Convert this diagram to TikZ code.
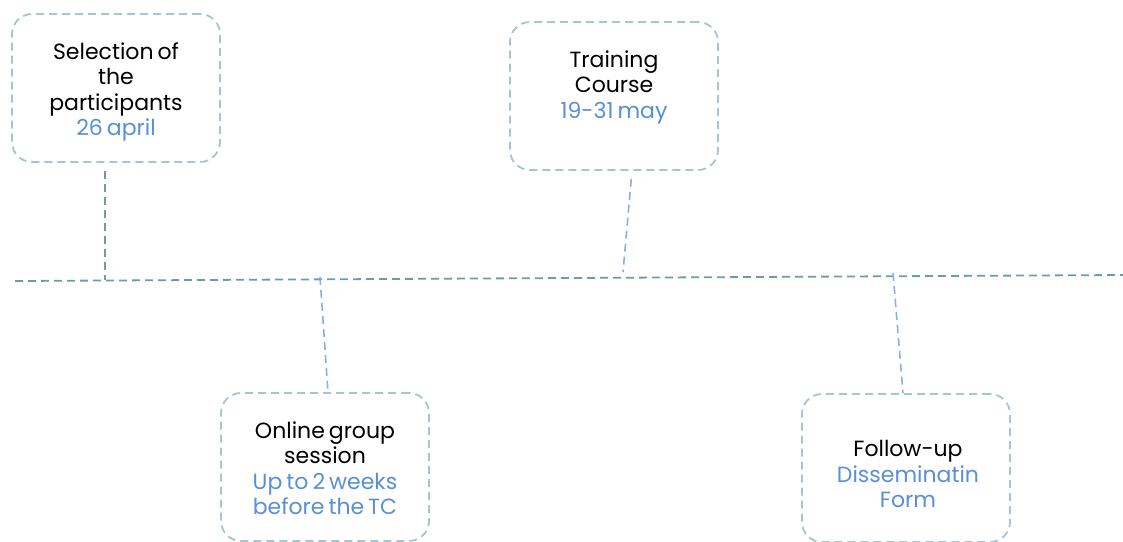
\documentclass[tikz,border=0pt]{standalone}
\usepackage{fontspec}
\setmainfont{Poppins}
\usepackage{tikz}
\usetikzlibrary{positioning,calc}
\definecolor{boxteal}{RGB}{162,199,207}
\definecolor{lineteal}{RGB}{104,158,170}
\definecolor{linkblue}{RGB}{136,176,230}
\definecolor{dateblue}{RGB}{88,143,214}
\newcommand{\when}[1]{\textcolor{dateblue}{#1}}
\newcommand{\stepfont}{\fontsize{22}{25.5}\selectfont\spaceskip=4pt\relax}

\begin{document}
\begin{tikzpicture}[x=1pt,y=-1pt,
  font=\stepfont,
  stepbox/.style={draw=boxteal,line width=1.8pt,dash pattern=on 8pt off 5pt,
    rounded corners=20pt,minimum width=208pt,minimum height=148pt,
    align=center,inner sep=0pt},
  timeline/.style={lineteal,line width=1.8pt,dash pattern=on 8pt off 5pt},
  tick/.style={line width=1.6pt,dash pattern=on 8pt off 5pt}]
\useasboundingbox (0,0) rectangle (1123,541);
% ---------- the time line ----------
\coordinate (lineL) at (15,281);
\coordinate (lineR) at (1123,275);
\draw[timeline] (lineL) -- (lineR);
% ---------- the four steps ----------
\node[stepbox] (sel) at (116,88) {};
\node[align=center] (seltext) at (116,92) {Selection of\\the\\participants\\\when{26 april}};
\node[stepbox] (tc) at (614,96) {};
\node[align=center] (tctext) at (614,87) {Training\\Course\\\when{19-31 may}};
\node[stepbox] (online) at (325,467) {};
\node[align=center] (onlinetext) at (325,468) {Online group\\session\\\when{Up to 2 weeks}\\\when{before the TC}};
\node[stepbox] (follow) at (906,468) {};
\node[align=center] (followtext) at (908,474) {Follow-up\\\when{Disseminatin}\\\when{Form}};
% ---------- ticks down to / up from the line ----------
\coordinate (selfoot) at (105,280);
\coordinate (tcfoot) at (623,272);
\coordinate (onlinetop) at (320,277);
\coordinate (followtop) at (893,273);
\draw[tick,lineteal,shorten <=8pt] ([xshift=-11pt]sel.south) -- (selfoot);
\draw[tick,linkblue,shorten <=8pt] ([xshift=18pt]tc.south) -- (tcfoot);
\draw[tick,linkblue] (onlinetop) -- ([xshift=3pt]online.north);
\draw[tick,linkblue] (followtop) -- ([xshift=-3pt]follow.north);
\end{tikzpicture}
\end{document}
